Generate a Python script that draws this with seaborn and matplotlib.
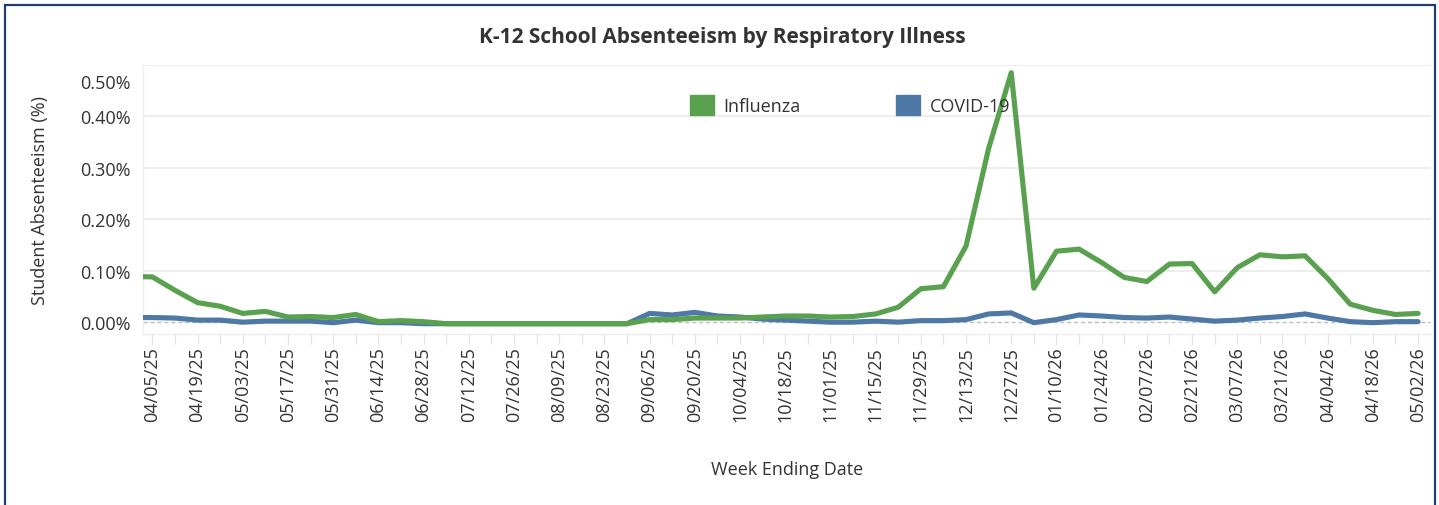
import numpy as np
import pandas as pd
import matplotlib.pyplot as plt
import matplotlib.dates as mdates
from matplotlib.patches import Patch, Rectangle
from matplotlib.transforms import ScaledTranslation
import seaborn as sns

# week ending dates, 03/29/25 .. 05/02/26
weeks = pd.date_range("2025-03-29", "2026-05-02", freq="7D")

# student absenteeism (%)
influenza = [0.089, 0.088, 0.062, 0.038, 0.031, 0.017, 0.021, 0.010, 0.011, 0.009,
             0.015, 0.001, 0.003, 0.001,
             -0.003, -0.003, -0.003, -0.003, -0.003, -0.003, -0.003, -0.003, -0.003,
             0.005, 0.005, 0.008, 0.008, 0.008,
             0.010, 0.012, 0.012, 0.010, 0.011, 0.016, 0.029, 0.065, 0.069, 0.148,
             0.338, 0.485,
             0.066, 0.138, 0.142, 0.116, 0.087, 0.079, 0.113, 0.114, 0.059, 0.106,
             0.131, 0.127, 0.129, 0.085, 0.035, 0.023, 0.015, 0.017]
covid = [0.009, 0.009, 0.008, 0.004, 0.004, 0.000, 0.002, 0.002, 0.002, -0.001,
         0.004, -0.001, -0.001, -0.003,
         -0.003, -0.003, -0.003, -0.003, -0.003, -0.003, -0.003, -0.003, -0.003,
         0.017, 0.014, 0.019, 0.012, 0.010,
         0.006, 0.004, 0.002, 0.000, 0.000, 0.002, 0.000, 0.003, 0.003, 0.005,
         0.016, 0.018,
         -0.001, 0.005, 0.014, 0.012, 0.009, 0.008, 0.010, 0.006, 0.002, 0.004,
         0.008, 0.011, 0.016, 0.008, 0.001, -0.001, 0.001, 0.001]

series = ["Influenza", "COVID-19"]
colors = {"Influenza": "#59a14f", "COVID-19": "#4e79a7"}
yticks = [0.0, 0.1, 0.2, 0.3, 0.4, 0.5]

df = pd.DataFrame({
    "week": list(weeks) * 2,
    "pct": covid + influenza,
    "illness": ["COVID-19"] * len(weeks) + ["Influenza"] * len(weeks),
})

sns.set_theme(style="white")
plt.rcParams["font.family"] = ["Open Sans", "DejaVu Sans"]
txt = "#333333"

fig = plt.figure(figsize=(14.39, 5.06), dpi=100)
ax = fig.add_axes([143 / 1439, 1 - 335 / 506, (1431 - 143) / 1439, (335 - 66) / 506])

# gridlines + dashed zero line
for v in yticks[1:]:
    ax.axhline(v, color="#ececec", lw=1.3, zorder=0)
ax.axhline(0, color="#bdbdbd", lw=1, ls=(0, (3, 2)), zorder=1)

sns.lineplot(data=df, x="week", y="pct", hue="illness",
             hue_order=["COVID-19", "Influenza"], palette=colors,
             linewidth=3.7, estimator=None, legend=False, ax=ax, zorder=3)

ax.set_ylim(-0.023, 0.5)
ax.set_yticks(yticks)
ax.set_yticklabels([f"{v:.2f}%" for v in yticks])

x0 = mdates.date2num(weeks[1]) - 2.9
x1 = mdates.date2num(weeks[-1]) + 4.0
ax.set_xlim(x0, x1)
ax.set_xticks(weeks[1::2])
ax.set_xticklabels([d.strftime("%m/%d/%y") for d in weeks[1::2]], rotation=90)
ax.set_xticks(weeks[1:], minor=True)

ax.tick_params(axis="x", which="both", bottom=True, length=7, width=0.9,
               color="#e3e3e3", labelsize=13, labelcolor=txt, pad=2)
ax.tick_params(axis="y", length=0, pad=9, labelsize=13, labelcolor=txt)

for s in ["top", "right"]:
    ax.spines[s].set_visible(False)
for s in ["left", "bottom"]:
    ax.spines[s].set_color("#eeeeee")
    ax.spines[s].set_linewidth(1)

ax.set_xlabel("Week Ending Date", fontsize=13, color=txt)
ax.set_ylabel("Student Absenteeism (%)", fontsize=13, color=txt)
ax.xaxis.label.set_va("center")
ax.yaxis.label.set_va("center")
ax.xaxis.set_label_coords(0.5, (335 - 470) / 269)
ax.yaxis.set_label_coords((40 - 143) / 1288, 0.5)

handles = [Patch(color=colors[s], label=s) for s in series]
ax.legend(handles=handles, loc="center left", bbox_to_anchor=(0.425, 0.851),
          ncol=2, frameon=False, borderpad=0, borderaxespad=0,
          handlelength=1.33, handleheight=1.33, handletextpad=0.5,
          columnspacing=5.3, fontsize=13, labelcolor=txt)

fig.text(0.502, 1 - 38 / 506, "K-12 School Absenteeism by Respiratory Illness",
         ha="center", va="center", fontsize=15, fontweight="bold", color=txt)

# outer frame of the dashboard tile
fig.add_artist(Rectangle((5 / 1439, -0.1), (1435 - 5) / 1439, 1.1 - 6 / 506,
                         transform=fig.transFigure, fill=False,
                         edgecolor="#1f3d6e", lw=1.6))

# top tick label sits a bit lower, like the original
top = ax.yaxis.get_major_ticks()[-1].label1
top.set_transform(top.get_transform() + ScaledTranslation(0, -0.16, fig.dpi_scale_trans))

fig.savefig("out.png", dpi=100)
